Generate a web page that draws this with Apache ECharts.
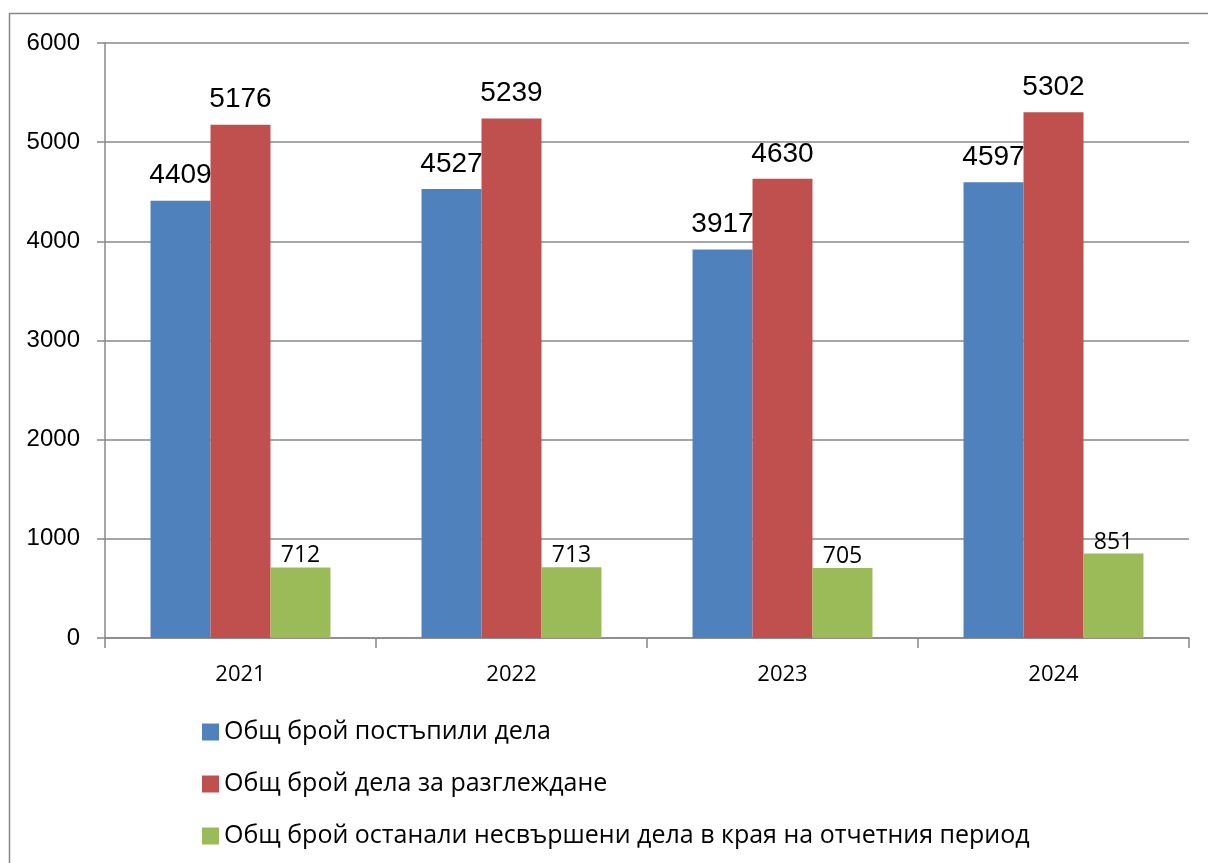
<!DOCTYPE html>
<html>
<head>
<meta charset="utf-8">
<script src="https://cdn.jsdelivr.net/npm/echarts@6/dist/echarts.min.js"></script>
<style>
  html, body { margin: 0; padding: 0; background: #fff; }
  #chart { width: 1208px; height: 863px; }
</style>
</head>
<body>
<div id="chart"></div>
<script>
var years = ['2021', '2022', '2023', '2024'];
var postapili = [4409, 4527, 3917, 4597];
var zaRazglezhdane = [5176, 5239, 4630, 5302];
var nesvarsheni = [712, 713, 705, 851];
var seriesNames = [
  'Общ брой постъпили дела',
  'Общ брой дела за разглеждане',
  'Общ брой останали несвършени дела в края на отчетния период'
];
var yTicks = [0, 1000, 2000, 3000, 4000, 5000, 6000];

var chart = echarts.init(document.getElementById('chart'));

function bigLabel() {
  return {
    show: true,
    position: 'top',
    distance: 11,
    color: '#000',
    fontFamily: 'Liberation Sans',
    fontSize: 28
  };
}

var option = {
  animation: false,
  graphic: [
    {
      type: 'rect',
      shape: { x: 9.5, y: 13.5, width: 1300, height: 1000 },
      style: { fill: 'none', stroke: '#888', lineWidth: 1.5 },
      silent: true
    }
  ],
  grid: { left: 105, right: 19, top: 43, bottom: 225 },
  legend: {
    orient: 'vertical',
    left: 197,
    top: 712,
    itemWidth: 17,
    itemHeight: 17,
    itemGap: 22,
    icon: 'rect',
    textStyle: { fontFamily: 'Open Sans', fontSize: 25, color: '#000', lineHeight: 30 },
    data: seriesNames
  },
  xAxis: {
    type: 'category',
    data: years,
    axisLine: { lineStyle: { color: '#888', width: 1.5 } },
    axisTick: { show: true, length: 10, lineStyle: { color: '#888', width: 1.5 } },
    axisLabel: { color: '#000', fontFamily: 'Open Sans', fontSize: 22, margin: 26 }
  },
  yAxis: {
    type: 'value',
    min: yTicks[0],
    max: yTicks[yTicks.length - 1],
    interval: 1000,
    axisLine: { show: true, lineStyle: { color: '#888', width: 1.5 } },
    axisTick: { show: true, length: 8, lineStyle: { color: '#888', width: 1.5 } },
    splitLine: { lineStyle: { color: '#888', width: 1.5 } },
    axisLabel: {
      color: '#000',
      fontFamily: 'Liberation Sans',
      fontSize: 24,
      margin: 25,
      formatter: function (v) { return String(v); }
    }
  },
  series: [
    {
      name: seriesNames[0],
      type: 'bar',
      data: postapili,
      barGap: '0%',
      barCategoryGap: '33.6%',
      itemStyle: { color: '#4F81BD' },
      label: bigLabel()
    },
    {
      name: seriesNames[1],
      type: 'bar',
      data: zaRazglezhdane,
      barGap: '0%',
      barCategoryGap: '33.6%',
      itemStyle: { color: '#C0504D' },
      label: bigLabel()
    },
    {
      name: seriesNames[2],
      type: 'bar',
      data: nesvarsheni,
      barGap: '0%',
      barCategoryGap: '33.6%',
      itemStyle: { color: '#9BBB59' },
      label: {
        show: true,
        position: 'top',
        distance: 0,
        color: '#000',
        fontFamily: 'Open Sans',
        fontSize: 23
      }
    }
  ]
};

chart.setOption(option);
</script>
</body>
</html>
